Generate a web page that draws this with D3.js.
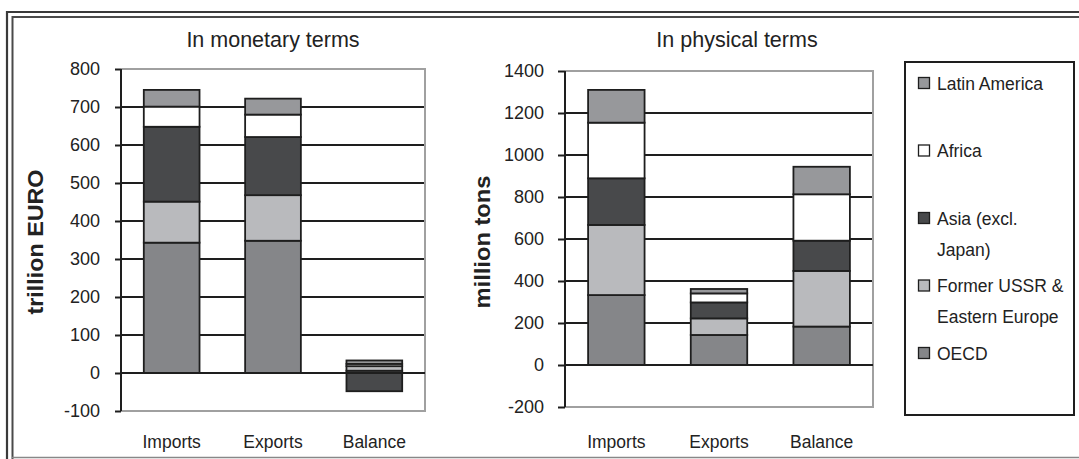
<!DOCTYPE html>
<html><head><meta charset="utf-8">
<script src="https://cdn.jsdelivr.net/npm/d3@7"></script>
<style>
html,body{margin:0;padding:0;background:#fff;}
svg{display:block;font-family:"Liberation Sans",Arial,sans-serif;}
</style></head>
<body>
<svg id="c" width="1079" height="459"></svg>
<script>
// ---- data ----
const categories = ["Imports", "Exports", "Balance"];
const seriesNames = ["OECD", "Former USSR & Eastern Europe", "Asia (excl. Japan)", "Africa", "Latin America"];
const legendLines = [["OECD"], ["Former USSR &", "Eastern Europe"], ["Asia (excl.", "Japan)"], ["Africa"], ["Latin America"]];
// monetary terms (trillion EURO): per series, values for Imports, Exports, Balance
const monOECD   = [343, 348, 6];
const monFSU    = [108, 120, 12];
const monAsia   = [197, 153, -48];
const monAfrica = [53, 59, 6];
const monLatin  = [44, 42, 9];
// physical terms (million tons)
const phyOECD   = [333, 143, 183];
const phyFSU    = [334, 79, 265];
const phyAsia   = [222, 76, 144];
const phyAfrica = [265, 43, 221];
const phyLatin  = [156, 21, 131];
const monTicks = [-100, 0, 100, 200, 300, 400, 500, 600, 700, 800];
const phyTicks = [-200, 0, 200, 400, 600, 800, 1000, 1200, 1400];

const colors = ["#858689", "#b9babd", "#48494b", "#ffffff", "#97989b"];

const svg = d3.select("#c");

// outer double frame
const frame = svg.append("g").attr("fill", "none");
frame.append("path").attr("d", "M7,459 V12 H1079").attr("stroke", "#3a3a3a").attr("stroke-width", 2.2);
frame.append("path").attr("d", "M12.5,459 V17 H1079").attr("stroke", "#4a4a4a").attr("stroke-width", 2);
frame.append("path").attr("d", "M12,457.5 H1079").attr("stroke", "#888").attr("stroke-width", 1.5);

function buildRows(arrs) {
  return categories.map((c, i) => {
    const r = { cat: c };
    seriesNames.forEach((s, j) => r[s] = arrs[j][i]);
    return r;
  });
}

function drawChart(cfg) {
  const g = svg.append("g");
  const x = d3.scaleBand().domain(categories).range([cfg.x0, cfg.x1]).paddingInner(0.45).paddingOuter(0.225);
  const y = d3.scaleLinear().domain(cfg.domain).range([cfg.yBot, cfg.yTop]);

  // gridlines
  g.append("g").selectAll("line").data(cfg.ticks.slice(1, -1)).join("line")
    .attr("x1", cfg.x0).attr("x2", cfg.x1)
    .attr("y1", d => y(d)).attr("y2", d => y(d))
    .attr("stroke", "#1e1e1e").attr("stroke-width", 2);
  // plot border (gray) top, right, bottom
  g.append("path")
    .attr("d", `M${cfg.x0},${y(cfg.domain[1])} H${cfg.x1} V${y(cfg.domain[0])} H${cfg.x0}`)
    .attr("fill", "none").attr("stroke", "#a0a0a0").attr("stroke-width", 2);

  // stacked bars
  const rows = buildRows(cfg.series);
  const stacked = d3.stack().keys(seriesNames).offset(d3.stackOffsetDiverging)(rows);
  g.append("g").selectAll("g").data(stacked).join("g")
    .attr("fill", (d, i) => colors[i])
    .selectAll("rect").data(d => d).join("rect")
    .attr("x", d => x(d.data.cat))
    .attr("width", x.bandwidth())
    .attr("y", d => y(Math.max(d[0], d[1])))
    .attr("height", d => Math.abs(y(d[0]) - y(d[1])))
    .attr("stroke", "#1e1e1e").attr("stroke-width", 1.8);

  // zero line on top
  g.append("line").attr("x1", cfg.x0).attr("x2", cfg.x1).attr("y1", y(0)).attr("y2", y(0))
    .attr("stroke", "#1e1e1e").attr("stroke-width", 2);

  // y axis
  const ya = g.append("g").attr("transform", `translate(${cfg.x0},0)`)
    .call(d3.axisLeft(y).tickValues(cfg.ticks).tickSize(cfg.tickSize).tickPadding(cfg.tickPad).tickFormat(d => String(d)));
  ya.select(".domain").remove();
  ya.selectAll(".tick line").attr("stroke", "#1e1e1e").attr("stroke-width", 2);
  ya.selectAll(".tick text").attr("font-size", 18).attr("fill", "#222")
    .attr("font-family", "'Liberation Sans',Arial,sans-serif");
  g.append("line").attr("x1", cfg.x0).attr("x2", cfg.x0).attr("y1", y(cfg.domain[1])).attr("y2", y(cfg.domain[0]))
    .attr("stroke", "#1e1e1e").attr("stroke-width", 2);

  // x axis labels
  const xa = g.append("g").attr("transform", `translate(0,${y(cfg.domain[0])})`)
    .call(d3.axisBottom(x).tickSize(0).tickPadding(cfg.catPad));
  xa.select(".domain").remove();
  xa.selectAll(".tick text").attr("font-size", 17.5).attr("fill", "#222")
    .attr("font-family", "'Liberation Sans',Arial,sans-serif");

  // title
  g.append("text").attr("x", cfg.titleX).attr("y", 47).attr("text-anchor", "middle")
    .attr("font-size", 21.5).attr("fill", "#222").text(cfg.title);
  // y title
  g.append("text").attr("transform", `translate(${cfg.yTitleX},242) rotate(-90)`)
    .attr("text-anchor", "middle").attr("font-size", 22).attr("font-weight", "bold").attr("fill", "#222")
    .attr("textLength", cfg.yTitleLen).attr("lengthAdjust", "spacingAndGlyphs")
    .text(cfg.yTitle);
}

drawChart({
  x0: 121, x1: 425, yTop: 69, yBot: 411, domain: [-100, 800], ticks: monTicks,
  series: [monOECD, monFSU, monAsia, monAfrica, monLatin],
  tickSize: 6, tickPad: 15, catPad: 25,
  title: "In monetary terms", titleX: 273, yTitle: "trillion EURO", yTitleX: 43, yTitleLen: 145
});
drawChart({
  x0: 565, x1: 873, yTop: 71, yBot: 407, domain: [-200, 1400], ticks: phyTicks,
  series: [phyOECD, phyFSU, phyAsia, phyAfrica, phyLatin],
  tickSize: 7, tickPad: 14, catPad: 29,
  title: "In physical terms", titleX: 737, yTitle: "million tons", yTitleX: 490, yTitleLen: 133
});

// legend
const lg = svg.append("g");
lg.append("rect").attr("x", 905).attr("y", 62).attr("width", 169).attr("height", 353)
  .attr("fill", "#fff").attr("stroke", "#1e1e1e").attr("stroke-width", 2);
const order = d3.range(seriesNames.length).reverse();
order.forEach((si, k) => {
  const cy = 83 + k * 67.5;
  lg.append("rect").attr("x", 918.5).attr("y", cy - 5.5).attr("width", 11).attr("height", 11)
    .attr("fill", colors[si]).attr("stroke", "#1e1e1e").attr("stroke-width", 1.3);
  legendLines[si].forEach((ln, li) => {
    lg.append("text").attr("x", 937).attr("y", cy + 6.5 + li * 31)
      .attr("font-size", 17.5).attr("fill", "#222").text(ln);
  });
});
</script>
</body></html>
